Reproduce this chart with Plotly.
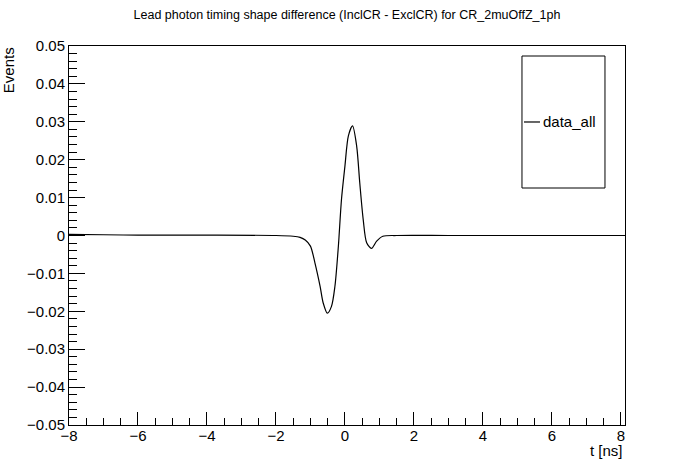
import plotly.graph_objects as go

# values
t_ns = [-8.0, -7.0, -6.0, -4.0, -2.0, -1.5, -1.3, -1.15, -1.0, -0.87, -0.72, -0.63,
        -0.51, -0.39, -0.29, -0.19, -0.1, 0.0, 0.1, 0.22, 0.34, 0.43, 0.53,
        0.63, 0.77, 0.92, 1.1, 1.5, 3.0, 5.0, 8.12]
diff = [0.0003, 0.0002, 0.0001, 0.0001, 0.0, -0.0002, -0.0005, -0.0012, -0.0028, -0.0072,
        -0.0134, -0.0178, -0.0205, -0.0187, -0.0134, -0.0028, 0.0095, 0.0183,
        0.0263, 0.0289, 0.0236, 0.0139, 0.0042, -0.0019, -0.0034, -0.0015,
        -0.0002, 0.0, 0.0, 0.0, 0.0]
x_ticks = [-8, -6, -4, -2, 0, 2, 4, 6, 8]
y_ticks = [0.05, 0.04, 0.03, 0.02, 0.01, 0, -0.01, -0.02, -0.03, -0.04, -0.05]

FONT = "Liberation Sans, Arial, Helvetica, sans-serif"

fig = go.Figure()
fig.add_trace(go.Scatter(x=t_ns, y=diff, mode="lines", name="data_all",
                         line=dict(color="black", width=1.2, shape="spline", smoothing=0.8),
                         showlegend=False))

fig.update_layout(
    width=696, height=472,
    margin=dict(l=69, r=71, t=46, b=47),
    paper_bgcolor="white", plot_bgcolor="white",
    font=dict(family=FONT, size=15, color="black"),
    title=dict(text="Lead photon timing shape difference (InclCR - ExclCR) for CR_2muOffZ_1ph",
               x=0.5, xref="paper", xanchor="center", y=1 - 15 / 472, yanchor="middle",
               font=dict(size=12.5)),
)

fig.update_xaxes(range=[-8, 8.12], showgrid=False, zeroline=False,
                 showline=True, linecolor="black", linewidth=1, mirror=True,
                 ticks="inside", ticklen=13, tickcolor="black", ticklabelstandoff=-3,
                 tickvals=x_ticks, ticktext=[str(v).replace("-", "\u2212") for v in x_ticks],
                 minor=dict(ticks="inside", ticklen=7, dtick=0.5, tickcolor="black", showgrid=False))
fig.update_yaxes(range=[-0.05, 0.05], showgrid=False, zeroline=False,
                 showline=True, linecolor="black", linewidth=1, mirror=True,
                 ticks="inside", ticklen=16, tickcolor="black",
                 tickvals=y_ticks,
                 ticktext=[("0" if v == 0 else f"{v:.2f}").replace("-", "\u2212") for v in y_ticks],
                 minor=dict(ticks="inside", ticklen=8, dtick=0.002, tickcolor="black", showgrid=False))

# axis titles placed like ROOT (at the end of the axes)
fig.add_annotation(text="t [ns]", xref="paper", yref="paper", x=1.0, y=-0.066,
                   xanchor="right", yanchor="middle", showarrow=False, font=dict(size=15))
fig.add_annotation(text="Events", xref="paper", yref="paper", x=-0.1088, y=0.935,
                   xanchor="center", yanchor="middle", textangle=-90, showarrow=False,
                   font=dict(size=15))

# legend box drawn ROOT style
fig.add_shape(type="rect", xref="paper", yref="paper", x0=0.8147, x1=0.964, y0=0.6253, y1=0.9736,
              line=dict(color="black", width=1), fillcolor="white", layer="above")
fig.add_shape(type="line", xref="paper", yref="paper", x0=0.8183, x1=0.8471, y0=0.7995, y1=0.7995,
              line=dict(color="black", width=1.2))
fig.add_annotation(text="data_all", xref="paper", yref="paper", x=0.849, y=0.7995,
                   xanchor="left", yanchor="middle", showarrow=False, font=dict(size=15))

# page has a default body margin, drop it so the figure sits at the corner
fig.write_html("out.html", config={"displayModeBar": False},
               post_script="document.body.style.margin='0px';")
